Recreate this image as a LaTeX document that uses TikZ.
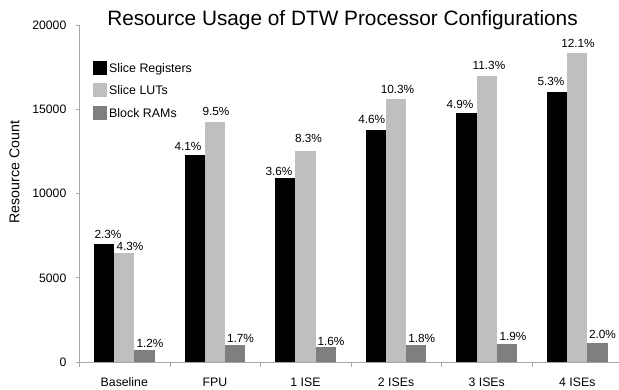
\documentclass[tikz,border=0pt]{standalone}
\usepackage{fontspec}
\setmainfont{Liberation Sans}
\definecolor{lgray}{HTML}{BFBFBF}
\definecolor{dgray}{HTML}{7F7F7F}
\definecolor{axgray}{HTML}{A6A6A6}
\tikzset{
  axisline/.style={draw=axgray, line width=0.9pt},
  pct/.style={anchor=base, inner sep=0pt, font=\fontsize{11.8}{13}\selectfont},
  ticklab/.style={anchor=base east, inner sep=0pt, font=\fontsize{12.2}{14}\selectfont},
  catlab/.style={anchor=base, inner sep=0pt, font=\fontsize{12.3}{14}\selectfont},
  leglab/.style={anchor=base west, inner sep=0pt, font=\fontsize{12.4}{14}\selectfont},
  legbox/.style={minimum width=14pt, minimum height=14pt, inner sep=0pt, draw=none},
}
\begin{document}
\begin{tikzpicture}[x=1pt,y=-1pt]
\useasboundingbox (0,0) rectangle (619,390);
% title
\node[anchor=base, inner sep=0pt, font=\fontsize{20.8}{24}\selectfont] (title) at (342.5,26) {Resource Usage of DTW Processor Configurations};
% y label
\node[rotate=90, inner sep=0pt, font=\fontsize{14.2}{16}\selectfont] (ylab) at (14.5,172) {Resource Count};
% bars
\foreach \k/\a/\b/\c/\lab in {0/244/253.3/350.3/Baseline, 1/155/122/345/FPU, 2/178.3/151/347.3/1 ISE, 3/130/98.7/345/2 ISEs, 4/113.3/76/344/3 ISEs, 5/91.7/53.3/343/4 ISEs}{
  \pgfmathsetmacro\L{94+90.6*\k}
  \fill[black] (\L,\a) rectangle (\L+20.2,362.5);
  \fill[lgray] (\L+20.2,\b) rectangle (\L+40.4,362.5);
  \fill[dgray] (\L+40.4,\c) rectangle (\L+60.6,362.5);
  \node[catlab] (cat\k) at (\L+30.3,386.5) {\lab};
}
% axes
\coordinate (ytop) at (79.5,25);
\coordinate (orig) at (79.5,362.8);
\coordinate (xend) at (619,362.8);
\draw[axisline] (ytop) -- (orig) -- (xend);
\foreach \v/\y in {0/362, 5000/277.75, 10000/193.5, 15000/109.25, 20000/25}{
  \draw[axisline] (75.5,\y) -- (79.5,\y);
  \node[ticklab] (yt\v) at (66.5,\y+4.3) {\v};
}
\foreach \k in {0,...,5}{
  \draw[axisline] (79.5+90.6*\k,362.8) -- (79.5+90.6*\k,366.5);
}
% percent labels
\foreach \x/\y/\t [count=\i] in {108/234/2.3, 130/246.7/4.3, 150/343.3/1.2, 188/146.7/4.1, 216/111.7/9.5, 240.5/338.3/1.7, 279/171.7/3.6, 308.5/138.3/8.3, 331/340.7/1.6, 371.7/119/4.6, 397.5/89.3/10.3, 421.7/337.7/1.8, 460/104/4.9, 489/65.7/11.3, 513/336/1.9, 551/81/5.3, 578/43.3/12.1, 602.5/334.3/2.0}{
  \node[pct] (p\i) at (\x,\y+4.3) {\t\%};
}
% legend
\node[legbox, fill=black] (lb1) at (100,68) {};
\node[legbox, fill=lgray] (lb2) at (100,90.5) {};
\node[legbox, fill=dgray] (lb3) at (100,113) {};
\node[leglab] (lt1) at (109,72.5) {Slice Registers};
\node[leglab] (lt2) at (109,95) {Slice LUTs};
\node[leglab] (lt3) at (109,117.5) {Block RAMs};
\end{tikzpicture}
\end{document}
